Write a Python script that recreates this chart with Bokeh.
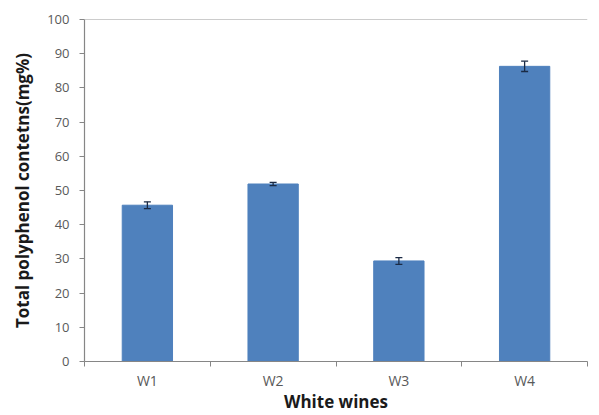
from bokeh.plotting import figure
from bokeh.models import ColumnDataSource, FixedTicker, Whisker, Span, Range1d, TeeHead
from bokeh.embed import file_html
from bokeh.resources import INLINE

categories = ["W1", "W2", "W3", "W4"]
values = [45.7, 51.9, 29.4, 86.3]
errors = [1.0, 0.5, 1.0, 1.5]
y_ticks = [0, 10, 20, 30, 40, 50, 60, 70, 80, 90, 100]
x_title = "White wines"
y_title = "Total polyphenol contetns(mg%)"

xpos = [i + 0.5 for i in range(len(categories))]
src = ColumnDataSource(dict(
    x=xpos, top=values,
    upper=[v + e for v, e in zip(values, errors)],
    lower=[v - e for v, e in zip(values, errors)],
))

p = figure(width=599, height=415, output_backend="svg", toolbar_location=None,
           x_range=Range1d(0, len(categories)), y_range=Range1d(0, 100),
           min_border_left=84, min_border_right=12, min_border_top=19, min_border_bottom=53)
p.outline_line_color = None
p.xgrid.visible = False
p.ygrid.visible = False
p.background_fill_color = "white"

p.vbar(x="x", top="top", width=0.4, source=src, color="#4F81BD")
w = Whisker(base="x", upper="upper", lower="lower", source=src, level="overlay",
            line_color="#1a2a44", line_width=1.3,
            upper_head=TeeHead(size=7, line_color="#1a2a44", line_width=1.3),
            lower_head=TeeHead(size=7, line_color="#1a2a44", line_width=1.3))
p.add_layout(w)

p.add_layout(Span(location=100, dimension="width", line_color="#9a9a9a", line_width=1.2))

font = "Open Sans"
ax = p.xaxis[0]
ax.ticker = FixedTicker(ticks=xpos, minor_ticks=list(range(len(categories) + 1)))
ax.major_label_overrides = {x: c for x, c in zip(xpos, categories)}
ax.major_tick_out = 0
ax.major_tick_in = 0
ax.minor_tick_out = 5
ax.minor_tick_in = 0
ax.minor_tick_line_color = "#868686"
ax.axis_line_color = "#868686"
ax.axis_line_width = 1.2
ax.major_label_text_font = font
ax.major_label_text_font_size = "14px"
ax.major_label_text_color = "#595959"
ax.major_label_standoff = 4
ax.axis_label = x_title
ax.axis_label_text_font = font
ax.axis_label_text_font_style = "bold"
ax.axis_label_text_font_size = "17px"
ax.axis_label_text_color = "#1a1a1a"
ax.axis_label_standoff = -3

ay = p.yaxis[0]
ay.ticker = FixedTicker(ticks=y_ticks)
ay.minor_tick_line_color = None
ay.major_tick_out = 5
ay.major_tick_in = 0
ay.major_tick_line_color = "#868686"
ay.axis_line_color = "#868686"
ay.axis_line_width = 1.2
ay.major_label_text_font = font
ay.major_label_text_font_size = "13px"
ay.major_label_text_color = "#595959"
ay.major_label_standoff = 10
ay.axis_label = y_title
ay.axis_label_text_font = font
ay.axis_label_text_font_style = "bold"
ay.axis_label_text_font_size = "17px"
ay.axis_label_text_color = "#1a1a1a"
ay.axis_label_standoff = 10

open("out.html", "w").write(file_html(p, INLINE))
